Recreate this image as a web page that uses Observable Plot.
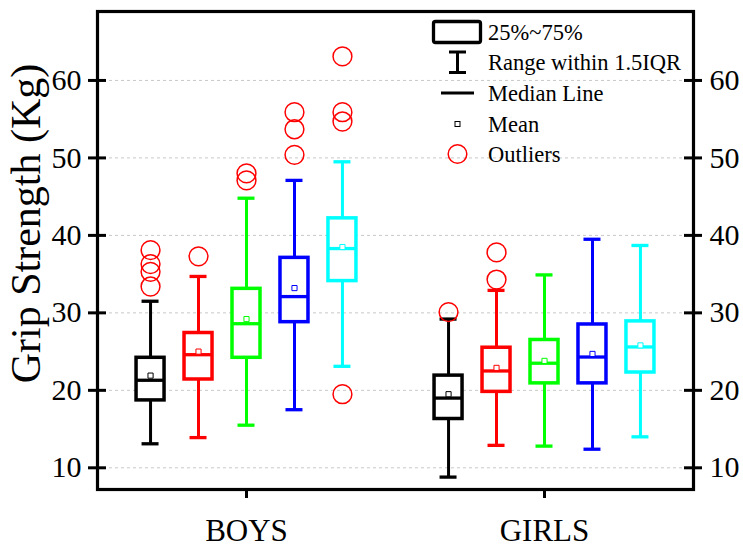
<!DOCTYPE html>
<html>
<head>
<meta charset="utf-8">
<script src="https://cdn.jsdelivr.net/npm/d3@7"></script>
<script src="https://cdn.jsdelivr.net/npm/@observablehq/plot@0.6"></script>
<style>
  html, body { margin: 0; padding: 0; background: white; }
</style>
</head>
<body>
<div id="chart"></div>
<script>
// ---- Data ----
const groups = ["BOYS", "GIRLS"];
const seriesColors = ["#000000", "#ff0000", "#00ff00", "#0000ff", "#00ffff"];
const yTicks = [10, 20, 30, 40, 50, 60];

// one entry per box: BOYS (5 series) then GIRLS (5 series)
const boxGroup  = [0, 0, 0, 0, 0, 1, 1, 1, 1, 1];
const boxSeries = [0, 1, 2, 3, 4, 0, 1, 2, 3, 4];
const whiskerLow  = [13.1, 13.9, 15.5, 17.5, 23.1,  8.8, 12.9, 12.8, 12.4, 14.0];
const q1          = [18.7, 21.4, 24.2, 28.8, 34.1, 16.3, 19.8, 20.9, 20.9, 22.3];
const median      = [21.3, 24.6, 28.6, 32.1, 38.3, 19.0, 22.5, 23.5, 24.3, 25.6];
const q3          = [24.2, 27.4, 33.1, 37.1, 42.2, 21.9, 25.5, 26.5, 28.5, 28.9];
const whiskerHigh = [31.5, 34.7, 44.8, 47.1, 49.5, 29.2, 32.9, 34.9, 39.5, 38.7];
const mean        = [21.9, 25.0, 29.2, 33.2, 38.5, 19.5, 22.9, 23.8, 24.7, 25.8];

// outliers: index of box, value
const outlierBox   = [0, 0, 0, 0, 1, 2, 2, 3, 3, 3, 4, 4, 4, 4, 5, 6, 6];
const outlierValue = [38.1, 36.3, 35.3, 33.4, 37.3, 48.0, 47.1, 55.9, 53.7, 50.4, 63.1, 55.9, 54.7, 19.5, 30.1, 37.8, 34.3];

const legendLabels = ["25%~75%", "Range within 1.5IQR", "Median Line", "Mean", "Outliers"];
const yTitle = "Grip Strength (Kg)";

// ---- Layout helpers ----
const xDomain = [0, 4];
const groupCenter = [1, 3];
const seriesStep = 0.322;
const pos = (g, s) => groupCenter[g] + (s - 2) * seriesStep;

const boxes = boxGroup.map((g, i) => ({
  x: pos(g, boxSeries[i]),
  lo: whiskerLow[i], q1: q1[i], med: median[i], q3: q3[i], hi: whiskerHigh[i], mean: mean[i],
  color: seriesColors[boxSeries[i]]
}));
const outliers = outlierBox.map((b, i) => ({ x: boxes[b].x, y: outlierValue[i] }));

const FONT = "'Liberation Serif', 'Times New Roman', Times, serif";

const plot = Plot.plot({
  width: 743,
  height: 546,
  marginLeft: 97,
  marginRight: 50,
  marginTop: 11,
  marginBottom: 57,
  style: { fontFamily: FONT, color: "black", background: "white", overflow: "visible" },
  x: { domain: xDomain, axis: null },
  y: { domain: [7.2, 68.9], axis: null },
  color: { type: "identity" },
  marks: [
    Plot.gridY({ ticks: yTicks, stroke: "#c8c8c8", strokeOpacity: 1, strokeDasharray: "3,3" }),
    // whiskers
    Plot.ruleX(boxes, { x: "x", y1: "lo", y2: "hi", stroke: "color", strokeWidth: 3 }),
    Plot.ruleY(boxes, { y: "hi", x1: "x", x2: "x", insetLeft: -8.5, insetRight: -8.5, stroke: "color", strokeWidth: 3.3 }),
    Plot.ruleY(boxes, { y: "lo", x1: "x", x2: "x", insetLeft: -8.5, insetRight: -8.5, stroke: "color", strokeWidth: 3.3 }),
    // boxes
    Plot.rect(boxes, { x1: "x", x2: "x", y1: "q1", y2: "q3", insetLeft: -14, insetRight: -14, fill: "white", stroke: "color", strokeWidth: 3.5 }),
    // median
    Plot.ruleY(boxes, { y: "med", x1: "x", x2: "x", insetLeft: -14, insetRight: -14, stroke: "color", strokeWidth: 3.3 }),
    // mean
    Plot.dot(boxes, { x: "x", y: "mean", symbol: "square", r: 2.9, fill: "white", stroke: "color", strokeWidth: 1 }),
    // outliers
    Plot.dot(outliers, { x: "x", y: "y", r: 9.4, fill: "none", stroke: "#ff0000", strokeWidth: 1.5 }),
    // frame
    Plot.frame({ stroke: "black", strokeWidth: 3.2 }),
    // tick marks crossing the frame on both sides
    Plot.ruleY(yTicks, { y: d => d, x1: xDomain[0], x2: xDomain[0], insetLeft: -9, insetRight: -9, stroke: "black", strokeWidth: 3 }),
    Plot.ruleY(yTicks, { y: d => d, x1: xDomain[1], x2: xDomain[1], insetLeft: -9, insetRight: -9, stroke: "black", strokeWidth: 3 }),
    // axis labels
    Plot.axisY({ anchor: "left", ticks: yTicks, tickSize: 0, tickPadding: 16, fontSize: 30, label: null }),
    Plot.axisY({ anchor: "right", ticks: yTicks, tickSize: 0, tickPadding: 16, fontSize: 30, label: null }),
    Plot.axisX({ ticks: groupCenter, tickFormat: d => groups[groupCenter.indexOf(d)], tickSize: 9, tickPadding: 20, fontSize: 31, strokeWidth: 3, label: null }),
    Plot.text([yTitle], { text: d => d, frameAnchor: "left", textAnchor: "middle", lineAnchor: "middle", rotate: -90, dx: -71, dy: -27, fontSize: 42 })
  ]
});

// ---- Legend (inside, top right) ----
const svg = d3.select(plot);
const lg = svg.append("g").attr("font-family", FONT).attr("font-size", 22.5).attr("fill", "black").attr("text-anchor", "start");
const symX = 457.5, textX = 488;
const rowY = [32, 62, 93, 124, 154];
lg.append("rect").attr("x", 433.5).attr("y", rowY[0] - 10.5).attr("width", 47).attr("height", 21)
  .attr("rx", 2).attr("fill", "none").attr("stroke", "black").attr("stroke-width", 3.3);
lg.append("line").attr("x1", symX).attr("x2", symX).attr("y1", rowY[1] - 10).attr("y2", rowY[1] + 10.5).attr("stroke", "black").attr("stroke-width", 3);
lg.append("line").attr("x1", symX - 8.5).attr("x2", symX + 8.5).attr("y1", rowY[1] - 10).attr("y2", rowY[1] - 10).attr("stroke", "black").attr("stroke-width", 3);
lg.append("line").attr("x1", symX - 8.5).attr("x2", symX + 8.5).attr("y1", rowY[1] + 10.5).attr("y2", rowY[1] + 10.5).attr("stroke", "black").attr("stroke-width", 3);
lg.append("line").attr("x1", symX - 16.5).attr("x2", symX + 16.5).attr("y1", rowY[2]).attr("y2", rowY[2]).attr("stroke", "black").attr("stroke-width", 3);
lg.append("rect").attr("x", symX - 2.5).attr("y", rowY[3] - 2.5).attr("width", 5).attr("height", 5).attr("fill", "white").attr("stroke", "black").attr("stroke-width", 1);
lg.append("circle").attr("cx", symX).attr("cy", rowY[4]).attr("r", 9.3).attr("fill", "none").attr("stroke", "#ff0000").attr("stroke-width", 1.5);
legendLabels.forEach((t, i) => {
  lg.append("text").attr("x", textX).attr("y", rowY[i] + 7.5).attr("text-anchor", "start").text(t);
});

document.getElementById("chart").appendChild(plot);
</script>
</body>
</html>
